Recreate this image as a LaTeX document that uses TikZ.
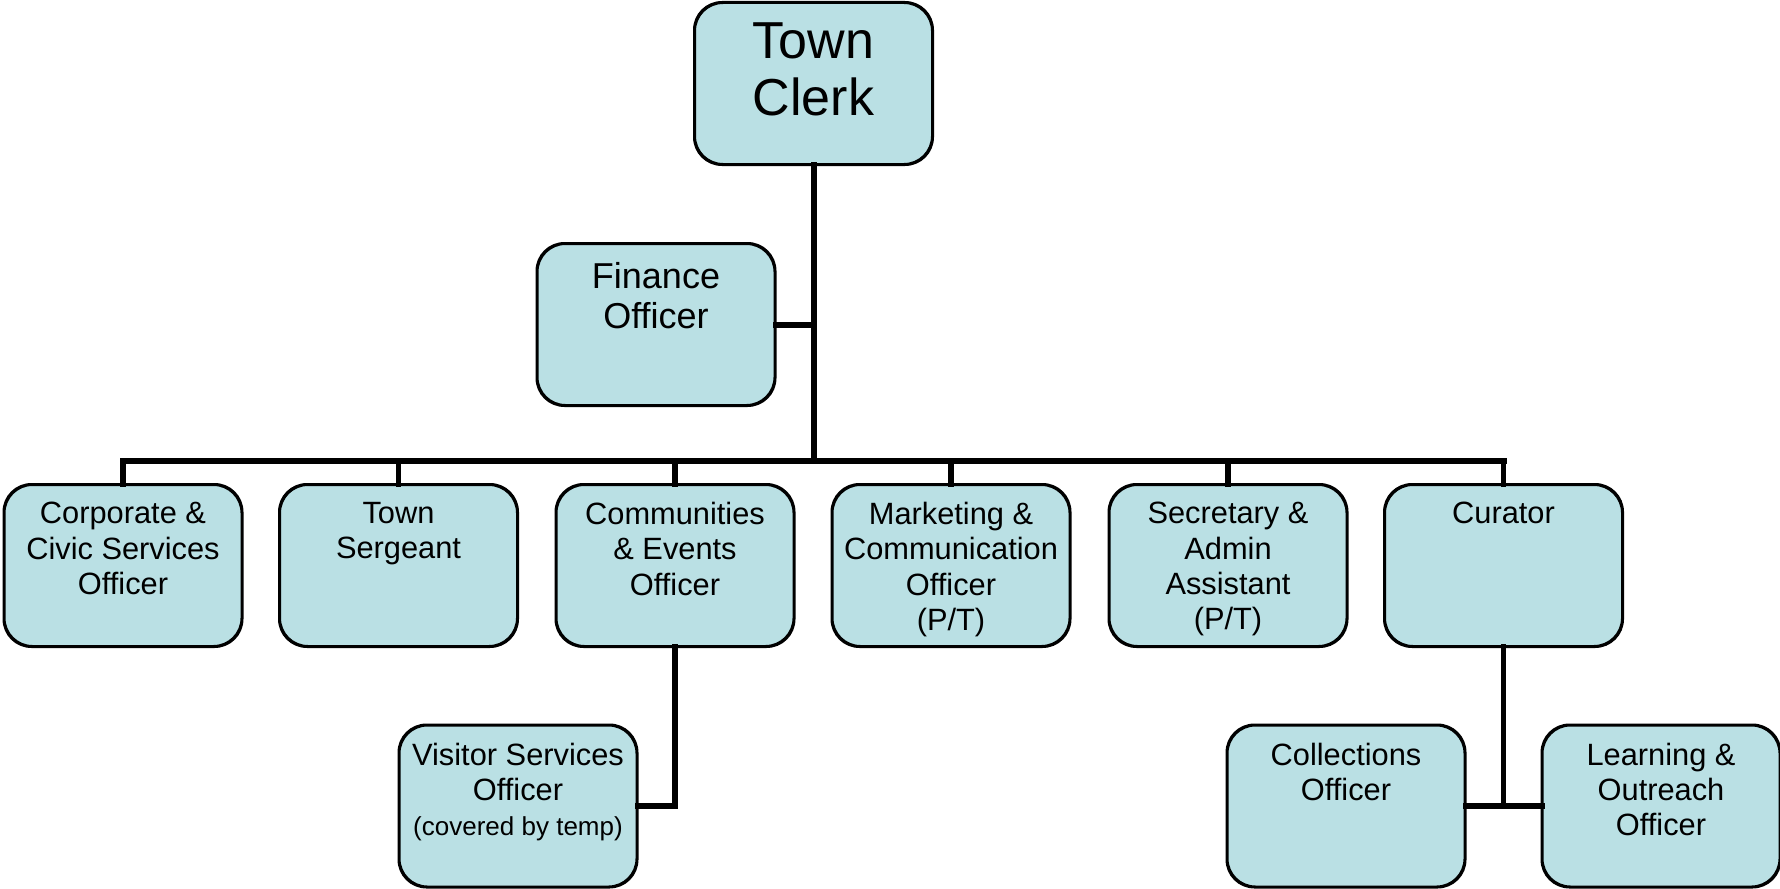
\documentclass[tikz,border=0pt]{standalone}
\usepackage{fontspec}
\setmainfont{Liberation Sans}
\definecolor{boxfill}{RGB}{186,224,228}
\begin{document}
\begin{tikzpicture}[x=0.5pt,y=-0.5pt,
  box/.style={draw=black, line width=1pt, fill=boxfill, rounded corners=14pt,
    minimum width=118.5pt, minimum height=80.5pt, inner sep=0pt},
  lbl/.style={align=center, inner sep=0pt, anchor=north,
    font=\fontsize{15.4}{17.6}\selectfont},
  finlbl/.style={align=center, inner sep=0pt, anchor=north,
    font=\fontsize{18}{20}\selectfont},
  biglbl/.style={align=center, inner sep=0pt, anchor=north,
    font=\fontsize{26}{28.6}\selectfont},
  conn/.style={line width=2.6pt, line cap=rect},
  mainconn/.style={line width=3pt, line cap=rect}]
\useasboundingbox (0,0) rectangle (1780,888);
% boxes
\node[box] (tc) at (813.5,83.5) {};
\node[box] (fin) at (656,324.5) {};
\node[box] (b1) at (123,565.5) {};
\node[box] (b2) at (398.5,565.5) {};
\node[box] (b3) at (675,565.5) {};
\node[box] (b4) at (951,565.5) {};
\node[box] (b5) at (1228,565.5) {};
\node[box] (b6) at (1503.5,565.5) {};
\node[box] (vis) at (518,806) {};
\node[box] (coll) at (1346,806) {};
\node[box] (learn) at (1661,806) {};
\coordinate (bus) at (813.5,461);
% connectors
\draw[mainconn] (tc.south) -- (bus);
\draw[mainconn] (fin.east) -- (fin.east -| tc.south);
\draw[mainconn] (b1.north |- bus) -- (b6.north |- bus);
\foreach \b in {b1,b2,b3,b4,b5,b6} \draw[conn] (\b.north) -- (\b.north |- bus);
\draw[conn] (b3.south) |- (vis.east);
\draw[conn] (b6.south) -- (b6.south |- coll.east);
\draw[mainconn] (coll.east) -- (learn.west);
% redraw box outlines over connector ends
\foreach \b in {tc,fin,b1,b2,b3,b4,b5,b6,vis,coll,learn}
  \draw[line width=1pt, rounded corners=14pt] (\b.south west) rectangle (\b.north east);
% labels
\node[biglbl] (tcT) at ([yshift=-10pt]tc.north) {Town\\Clerk};
\node[finlbl] (finT) at ([yshift=-9.5pt]fin.north) {Finance\\Officer};
\node[lbl] (b1T) at ([yshift=-9pt]b1.north) {Corporate \&\\Civic Services\\Officer};
\node[lbl] (b2T) at ([yshift=-9pt]b2.north) {Town\\Sergeant};
\node[lbl] (b3T) at ([yshift=-9pt]b3.north) {Communities\\\& Events\\Officer};
\node[lbl] (b4T) at ([yshift=-9pt]b4.north) {Marketing \&\\Communication\\Officer\\(P/T)};
\node[lbl] (b5T) at ([yshift=-9pt]b5.north) {Secretary \&\\Admin\\Assistant\\(P/T)};
\node[lbl] (b6T) at ([yshift=-9pt]b6.north) {Curator};
\node[lbl] (visT) at ([yshift=-9pt]vis.north) {Visitor Services\\Officer\\{\fontsize{13}{15}\selectfont (covered by temp)}};
\node[lbl] (collT) at ([yshift=-9pt]coll.north) {Collections\\Officer};
\node[lbl] (learnT) at ([yshift=-9pt]learn.north) {Learning \&\\Outreach\\Officer};
\end{tikzpicture}
\end{document}
